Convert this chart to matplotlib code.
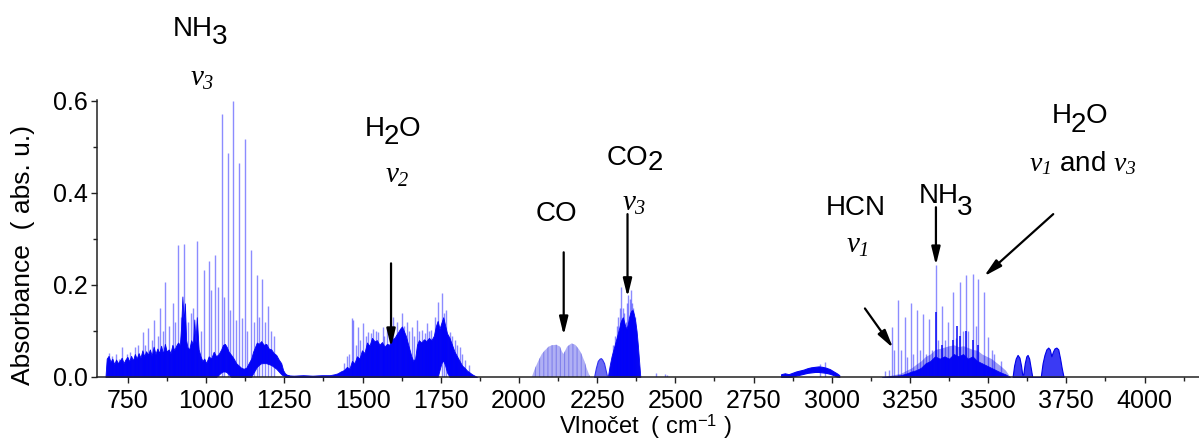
import matplotlib
matplotlib.use('Agg')
import matplotlib.pyplot as plt
from matplotlib.ticker import MultipleLocator
from matplotlib.font_manager import FontProperties

plt.rcParams['font.family'] = ['Liberation Sans', 'DejaVu Sans']
plt.rcParams['mathtext.fontset'] = 'custom'
plt.rcParams['mathtext.rm'] = 'Liberation Sans'
plt.rcParams['mathtext.it'] = 'Liberation Serif:italic'
plt.rcParams['mathtext.sf'] = 'Liberation Serif:italic'
plt.rcParams['hatch.linewidth'] = 0.8

# ---------------- data ----------------
# NH3 nu2 band: dense envelope
nh3_env_x = [678, 682, 688, 694, 700, 706, 712, 718, 724, 730, 736, 742, 748, 754, 760, 766, 772, 778,
             784, 790, 796, 802, 808, 814, 820, 826, 832, 838, 844, 850, 856, 862, 868, 874, 880, 886,
             892, 898, 904, 910, 916, 920, 924, 928, 932, 936, 940, 946, 952, 958, 962, 966, 970, 976,
             982, 988, 994, 1000, 1008, 1016, 1024, 1032, 1040, 1048, 1054, 1060, 1066, 1072, 1080,
             1088, 1096, 1104, 1112, 1120, 1128, 1136, 1144, 1150, 1156, 1162, 1168, 1176, 1184, 1192,
             1200, 1208, 1216, 1224, 1232, 1240, 1246, 1252, 1258, 1264]
nh3_env_hi = [0.0, 0.040, 0.046, 0.033, 0.040, 0.028, 0.038, 0.030, 0.036, 0.042, 0.030, 0.038, 0.044,
              0.034, 0.046, 0.036, 0.050, 0.040, 0.052, 0.042, 0.058, 0.045, 0.056, 0.048, 0.060, 0.046,
              0.066, 0.050, 0.062, 0.052, 0.068, 0.050, 0.072, 0.055, 0.060, 0.052, 0.070, 0.058, 0.068,
              0.075, 0.070, 0.110, 0.175, 0.120, 0.160, 0.080, 0.065, 0.060, 0.080, 0.070, 0.125, 0.075,
              0.130, 0.060, 0.045, 0.035, 0.040, 0.030, 0.045, 0.040, 0.055, 0.045, 0.050, 0.060, 0.070,
              0.072, 0.065, 0.055, 0.048, 0.040, 0.030, 0.025, 0.020, 0.018, 0.020, 0.030, 0.040, 0.055,
              0.065, 0.075, 0.072, 0.078, 0.070, 0.072, 0.062, 0.060, 0.052, 0.048, 0.038, 0.030, 0.015,
              0.008, 0.005, 0.004]
nh3_env_lo = [0.0] * 62 + [0.005, 0.010, 0.012, 0.012, 0.010, 0.006, 0.0, 0.0, 0.0, 0.0, 0.0, 0.0, 0.0,
              0.0, 0.0, 0.008, 0.015, 0.022, 0.026, 0.030, 0.030, 0.030, 0.028, 0.026, 0.022, 0.018,
              0.012, 0.006, 0.003, 0.002, 0.002, 0.002]

# NH3 nu2 band: sharp lines
nh3_lines_x = [689, 698, 711, 722, 730, 746, 758, 772, 783, 797, 804, 815, 826, 834, 845, 852, 861, 868,
               881, 893, 900, 909, 919, 930, 943, 951, 959, 970, 983, 993, 1010, 1017, 1028, 1039, 1050,
               1058, 1069, 1076, 1086, 1094, 1106, 1113, 1124, 1131, 1142, 1152, 1161, 1170, 1179, 1188,
               1199, 1208, 1218]
nh3_lines_h = [0.052, 0.045, 0.050, 0.040, 0.066, 0.050, 0.055, 0.066, 0.070, 0.098, 0.070, 0.106, 0.080,
               0.123, 0.090, 0.149, 0.100, 0.206, 0.110, 0.160, 0.120, 0.286, 0.130, 0.288, 0.120, 0.139,
               0.150, 0.295, 0.100, 0.232, 0.252, 0.188, 0.266, 0.196, 0.572, 0.174, 0.486, 0.145, 0.600,
               0.123, 0.466, 0.128, 0.517, 0.100, 0.275, 0.120, 0.221, 0.130, 0.214, 0.120, 0.155, 0.100,
               0.090]

# H2O nu2 band: dense envelope
h2o_env_x = [1252, 1280, 1310, 1340, 1370, 1395, 1410, 1420, 1430, 1440, 1450, 1458, 1466, 1474, 1482,
             1490, 1498, 1506, 1514, 1522, 1530, 1538, 1546, 1554, 1562, 1570, 1578, 1586, 1594, 1602,
             1608, 1614, 1620, 1626, 1632, 1638, 1644, 1650, 1656, 1662, 1668, 1674, 1680, 1688, 1696,
             1704, 1712, 1720, 1728, 1734, 1740, 1746, 1752, 1758, 1764, 1770, 1778, 1786, 1794, 1802,
             1810, 1818, 1826, 1834, 1842, 1850, 1858, 1866]
h2o_env_hi = [0.004, 0.003, 0.004, 0.003, 0.004, 0.004, 0.006, 0.008, 0.012, 0.015, 0.022, 0.018, 0.035,
              0.030, 0.045, 0.040, 0.058, 0.052, 0.075, 0.068, 0.085, 0.078, 0.080, 0.070, 0.076, 0.066,
              0.072, 0.070, 0.082, 0.085, 0.092, 0.098, 0.105, 0.110, 0.100, 0.090, 0.075, 0.060, 0.045,
              0.035, 0.040, 0.070, 0.080, 0.075, 0.082, 0.078, 0.085, 0.080, 0.090, 0.110, 0.122, 0.105,
              0.118, 0.130, 0.112, 0.095, 0.085, 0.070, 0.055, 0.045, 0.035, 0.025, 0.020, 0.014, 0.010,
              0.006, 0.003, 0.0]
h2o_env_lo = [0.0] * 50 + [0.0, 0.015, 0.030, 0.036, 0.025, 0.010] + [0.0] * 12

# H2O nu2 band: sharp lines
h2o_lines_x = [1440, 1450, 1458, 1465, 1470, 1478, 1486, 1492, 1500, 1510, 1518, 1526, 1534, 1542, 1550,
               1564, 1570, 1577, 1588, 1598, 1610, 1625, 1633, 1641, 1650, 1657, 1666, 1675, 1682, 1689,
               1698, 1707, 1712, 1718, 1730, 1740, 1753, 1760, 1767, 1779, 1786, 1795, 1803, 1811, 1818,
               1827, 1840]
h2o_lines_h = [0.030, 0.045, 0.050, 0.128, 0.123, 0.070, 0.109, 0.080, 0.118, 0.090, 0.098, 0.095, 0.105,
               0.100, 0.098, 0.109, 0.090, 0.109, 0.100, 0.131, 0.120, 0.139, 0.110, 0.120, 0.100, 0.109,
               0.090, 0.123, 0.100, 0.102, 0.095, 0.118, 0.100, 0.102, 0.130, 0.163, 0.183, 0.140, 0.145,
               0.098, 0.090, 0.080, 0.070, 0.066, 0.050, 0.037, 0.025]

# CO fundamental band (P and R branches)
co_env_x = [2041, 2052, 2062, 2073, 2083, 2095, 2105, 2120, 2131, 2137, 2142, 2147, 2154, 2168, 2180,
            2192, 2200, 2210, 2216, 2227]
co_env_y = [0.0, 0.020, 0.035, 0.050, 0.058, 0.066, 0.069, 0.070, 0.066, 0.056, 0.050, 0.056, 0.066,
            0.073, 0.070, 0.060, 0.050, 0.033, 0.020, 0.0]

# small band next to CO2
hot_env_x = [2240, 2246, 2252, 2258, 2262, 2266, 2272, 2278, 2282]
hot_env_y = [0.0, 0.020, 0.035, 0.040, 0.041, 0.038, 0.030, 0.012, 0.0]

# CO2 nu3 band
co2_env_x = [2284, 2290, 2296, 2302, 2308, 2314, 2320, 2324, 2328, 2332, 2336, 2340, 2344, 2348, 2352,
             2356, 2360, 2364, 2368, 2372, 2376, 2380, 2384, 2388]
co2_env_y = [0.0, 0.025, 0.045, 0.060, 0.075, 0.090, 0.105, 0.118, 0.125, 0.130, 0.120, 0.110, 0.105,
             0.115, 0.130, 0.140, 0.145, 0.145, 0.135, 0.120, 0.100, 0.070, 0.035, 0.0]
co2_lines_x = [2300, 2308, 2314, 2318, 2323, 2327, 2331, 2336, 2341, 2346, 2350, 2354, 2358, 2362, 2366,
               2370, 2438, 2466, 2474]
co2_lines_h = [0.070, 0.090, 0.110, 0.130, 0.150, 0.196, 0.150, 0.140, 0.120, 0.160, 0.178, 0.170, 0.190,
               0.160, 0.150, 0.130, 0.008, 0.007, 0.005]

# C-H stretch hump
ch_env_x = [2838, 2850, 2862, 2874, 2886, 2898, 2910, 2922, 2934, 2946, 2958, 2970, 2982, 2994, 3006,
            3016, 3024]
ch_env_hi = [0.006, 0.008, 0.006, 0.009, 0.012, 0.014, 0.016, 0.019, 0.021, 0.022, 0.023, 0.022, 0.020,
             0.017, 0.012, 0.008, 0.004]
ch_env_lo = [0.0, 0.0, 0.0, 0.001, 0.003, 0.005, 0.007, 0.009, 0.010, 0.011, 0.011, 0.010, 0.009, 0.007,
             0.004, 0.001, 0.0]
ch_lines_x = [2962, 2978]
ch_lines_h = [0.028, 0.033]

# HCN nu1 / NH3 nu1 / H2O nu1,nu3 region
str_env_x = [3160, 3190, 3220, 3240, 3255, 3270, 3285, 3300, 3315, 3330, 3345, 3360, 3375, 3390, 3405,
             3420, 3435, 3450, 3465, 3480, 3495, 3510, 3525, 3540, 3555, 3570]
str_env_dark = [0.0, 0.002, 0.004, 0.008, 0.012, 0.015, 0.020, 0.030, 0.035, 0.045, 0.040, 0.045, 0.040,
                0.050, 0.045, 0.050, 0.040, 0.045, 0.035, 0.030, 0.025, 0.020, 0.015, 0.010, 0.006, 0.0]
str_env_light = [0.0, 0.004, 0.008, 0.015, 0.020, 0.028, 0.035, 0.045, 0.050, 0.060, 0.062, 0.065, 0.068,
                 0.070, 0.066, 0.068, 0.064, 0.060, 0.058, 0.050, 0.045, 0.040, 0.032, 0.024, 0.015, 0.0]
str_lines_x = [3170, 3184, 3191, 3199, 3212, 3220, 3234, 3239, 3253, 3261, 3273, 3281, 3292, 3300, 3312,
               3319, 3333, 3340, 3351, 3361, 3372, 3388, 3397, 3410, 3418, 3429, 3437, 3450, 3460, 3468,
               3487, 3500, 3511, 3520, 3540]
str_lines_h = [0.012, 0.015, 0.109, 0.058, 0.167, 0.058, 0.131, 0.044, 0.160, 0.050, 0.145, 0.058, 0.138,
               0.050, 0.127, 0.058, 0.243, 0.080, 0.155, 0.080, 0.120, 0.185, 0.085, 0.206, 0.100, 0.221,
               0.100, 0.223, 0.110, 0.214, 0.185, 0.087, 0.058, 0.050, 0.035]
core_lines_x = [3333, 3351, 3388, 3400, 3410, 3428, 3450, 3468]
core_lines_h = [0.141, 0.070, 0.080, 0.110, 0.090, 0.100, 0.080, 0.070]

# H2O humps 3580-3740
hump_x = [3578, 3583, 3588, 3594, 3600, 3605, 3609, 3612, 3617, 3622, 3626, 3631, 3636, 3641, 3668, 3674,
          3680, 3686, 3692, 3697, 3702, 3707, 3712, 3718, 3724, 3730, 3735, 3741]
hump_y = [0.0, 0.025, 0.040, 0.048, 0.042, 0.025, 0.005, 0.005, 0.030, 0.045, 0.048, 0.040, 0.020, 0.0,
          0.0, 0.030, 0.048, 0.060, 0.064, 0.060, 0.045, 0.055, 0.062, 0.064, 0.060, 0.040, 0.020, 0.0]

x_ticks = [750, 1000, 1250, 1500, 1750, 2000, 2250, 2500, 2750, 3000, 3250, 3500, 3750, 4000]
y_ticks = [0.0, 0.2, 0.4, 0.6]

# ---------------- figure ----------------
W, H = 1199, 441
fig = plt.figure(figsize=(W / 100, H / 100), dpi=100)
ax = fig.add_axes([97 / W, 64 / H, 1102 / W, 277 / H])

DARK = '#0505f5'
LINE = '#0000ff'

# dense fills
ax.fill_between(nh3_env_x, nh3_env_lo, nh3_env_hi, color=DARK, lw=0.6)
ax.fill_between(h2o_env_x, h2o_env_lo, h2o_env_hi, color=DARK, lw=0.6)
ax.fill_between(co_env_x, 0, co_env_y, facecolor='#b0b0f4', hatch='||||', edgecolor='#8080ec', lw=0)
ax.fill_between(hot_env_x, 0, hot_env_y, facecolor='#6a6af2', edgecolor='#3030f0', lw=0.8)
ax.fill_between(co2_env_x, 0, co2_env_y, color=DARK, lw=0.6)
ax.fill_between(ch_env_x, ch_env_lo, ch_env_hi, color=DARK, lw=0.8)
ax.fill_between(str_env_x, 0, str_env_light, color='#a0a0f4', lw=0)
ax.fill_between(str_env_x, 0, str_env_dark, color=DARK, lw=0.5)
ax.fill_between(hump_x, 0, hump_y, facecolor='#3a3af4', edgecolor='#0000e8', lw=0.8)

# sharp lines
for lx, lh in [(nh3_lines_x, nh3_lines_h), (h2o_lines_x, h2o_lines_h), (co2_lines_x, co2_lines_h),
               (ch_lines_x, ch_lines_h), (str_lines_x, str_lines_h)]:
    ax.vlines(lx, 0, lh, colors=LINE, linewidth=1.0, alpha=0.45)
ax.vlines(core_lines_x, 0, core_lines_h, colors=DARK, linewidth=1.2, alpha=0.9)

ax.set_xlim(651, 4174)
ax.set_ylim(0, 0.602)

for s in ['top', 'right']:
    ax.spines[s].set_visible(False)
for s in ['left', 'bottom']:
    ax.spines[s].set_linewidth(1.1)
    ax.spines[s].set_color('#222222')

ax.set_xticks(x_ticks)
ax.set_xticklabels([str(t) for t in x_ticks])
ax.set_yticks(y_ticks)
ax.set_yticklabels(['%.1f' % t for t in y_ticks])
ax.xaxis.set_minor_locator(MultipleLocator(125))
ax.yaxis.set_minor_locator(MultipleLocator(0.1))
ax.tick_params(which='major', direction='out', length=4.5, width=1.0, labelsize=18, color='#222222')
ax.tick_params(which='minor', direction='out', length=3, width=1.0, color='#222222')
ax.tick_params(axis='x', which='major', pad=4)
ax.tick_params(axis='y', which='major', pad=2)

fig.text(23 / W, 1 - 255 / H, 'Absorbance  ( abs. u.)', rotation=90, ha='center', va='center',
         fontsize=19)
fig.text(645 / W, 1 - 434 / H, r'Vlnočet  ( cm$^{-1}$ )', ha='center', va='baseline', fontsize=17)

renderer = fig.canvas.get_renderer()


def pieces(x, y, parts, fs=20):
    """Draw text pieces one after another; each part is (text, dy in points)."""
    prop = FontProperties(family='Liberation Sans', size=fs)
    off = 0.0
    for s, dy in parts:
        ax.annotate(s, xy=(x, y), xycoords='data', xytext=(off, dy), textcoords='offset points',
                    ha='left', va='baseline', fontsize=fs, annotation_clip=False)
        w, h, d = renderer.get_text_width_height_descent(s, prop, ismath=False)
        off += w * 72 / fig.dpi - 0.8


pieces(893, 0.741, [('NH', 0), ('3', -5.8)])
pieces(1508, 0.524, [('H', 0), ('2', -5.8), ('O', 0)])
pieces(2281, 0.461, [('CO', 0), ('2', -4.0)])
pieces(3277, 0.379, [('NH', 0), ('3', -8.6)])
pieces(3704, 0.552, [('H', 0), ('2', -6.5), ('O', 0)])

txt = dict(ha='center', va='baseline', clip_on=False)
ax.text(2120, 0.339, 'CO', fontsize=20, **txt)
ax.text(3077, 0.351, 'HCN', fontsize=20, **txt)
ax.text(987, 0.632, r'$\nu_{\mathsf{3}}$', fontsize=21, **txt)
ax.text(1610, 0.422, r'$\nu_{\mathsf{2}}$', fontsize=21, **txt)
ax.text(2368, 0.362, r'$\nu_{\mathsf{3}}$', fontsize=21, **txt)
ax.text(3082, 0.269, r'$\nu_{\mathsf{1}}$', fontsize=21, **txt)
ax.text(3803, 0.448, r'$\nu_{\mathsf{1}}$ and $\nu_{\mathsf{3}}$', fontsize=20, **txt)

arrow = dict(arrowstyle='-|>,head_length=0.9,head_width=0.22', lw=1.6, color='black',
             mutation_scale=12, shrinkA=0, shrinkB=0)
for (x0, y0), (x1, y1) in [((1591, 0.247), (1591, 0.065)),
                           ((2143, 0.271), (2143, 0.091)),
                           ((2347, 0.354), (2347, 0.174)),
                           ((3106, 0.149), (3196, 0.063)),
                           ((3333, 0.369), (3333, 0.243)),
                           ((3708, 0.354), (3487, 0.219))]:
    ax.annotate('', xy=(x1, y1), xytext=(x0, y0), xycoords='data', arrowprops=arrow,
                annotation_clip=False)

fig.savefig('out.png', dpi=100)
